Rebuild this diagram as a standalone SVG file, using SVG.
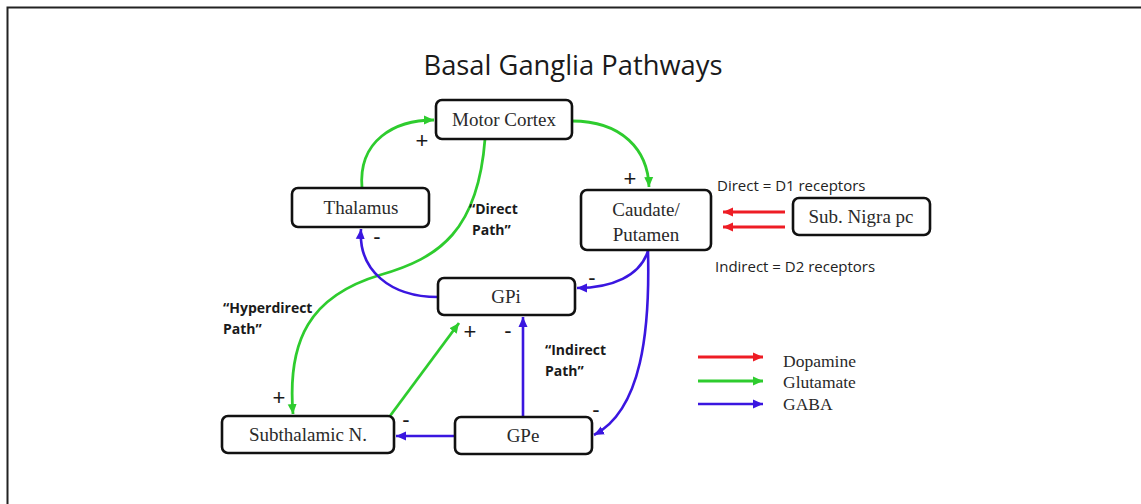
<svg xmlns="http://www.w3.org/2000/svg" width="1141" height="504" viewBox="0 0 1141 504">
  <style>
    .box { fill: #ffffff; stroke: #111111; stroke-width: 2.6; }
    .node { font-family: "Liberation Serif", "Times New Roman", serif; font-size: 19px; fill: #2a2a2a; text-anchor: middle; }
    .legend { font-family: "Liberation Serif", "Times New Roman", serif; font-size: 17.5px; fill: #2a2a2a; }
    .note { font-family: "Open Sans", "Liberation Sans", sans-serif; font-size: 15px; fill: #222222; }
    .path-label { font-family: "Open Sans", "Liberation Sans", sans-serif; font-size: 14px; font-weight: bold; fill: #1a1a1a; }
    .sign { font-family: "Liberation Sans", "Arial", sans-serif; font-size: 22px; fill: #1a1a1a; text-anchor: middle; }
    .glu { fill: none; stroke: #2ecc2e; stroke-width: 2.8; }
    .gaba { fill: none; stroke: #3a16e0; stroke-width: 2.6; }
    .da { fill: none; stroke: #ee1c24; stroke-width: 3; }
  </style>
  <defs>
    <marker id="arrow-glu" markerUnits="userSpaceOnUse" markerWidth="11" markerHeight="10" refX="10" refY="5" orient="auto">
      <path d="M0,0.5 L10,5 L0,9.5 z" fill="#2ecc2e"/>
    </marker>
    <marker id="arrow-gaba" markerUnits="userSpaceOnUse" markerWidth="11" markerHeight="10" refX="10" refY="5" orient="auto">
      <path d="M0,0.5 L10,5 L0,9.5 z" fill="#3a16e0"/>
    </marker>
    <marker id="arrow-da" markerUnits="userSpaceOnUse" markerWidth="11" markerHeight="10" refX="10" refY="5" orient="auto">
      <path d="M0,0.5 L10,5 L0,9.5 z" fill="#ee1c24"/>
    </marker>
  </defs>

  <rect width="1141" height="504" fill="#ffffff"/>
  <!-- frame -->
  <path d="M7.5,504 L7.5,7.5 L1141,7.5" fill="none" stroke="#222222" stroke-width="2"/>

  <text x="573" y="75" font-family="Open Sans, Liberation Sans, sans-serif" font-size="27" fill="#1a1a1a" text-anchor="middle" textLength="299" lengthAdjust="spacingAndGlyphs">Basal Ganglia Pathways</text>

  <!-- connectors -->
  <g id="connectors">
    <!-- glutamate -->
    <path class="glu" d="M362,188 C358,140 395,120 434,120" marker-end="url(#arrow-glu)"/>
    <path class="glu" d="M572,121 C622,121 648,150 649,187" marker-end="url(#arrow-glu)"/>
    <path class="glu" d="M485,139 C478,230 440,258 380,275 C310,296 287,340 293,414" marker-end="url(#arrow-glu)"/>
    <path class="glu" d="M390,416 L459,323" marker-end="url(#arrow-glu)"/>
    <!-- GABA -->
    <path class="gaba" d="M648,251 C640,276 612,288 577,288" marker-end="url(#arrow-gaba)"/>
    <path class="gaba" d="M648,251 C650,330 642,410 594,435" marker-end="url(#arrow-gaba)"/>
    <path class="gaba" d="M438,297 C390,297 358,270 361,229" marker-end="url(#arrow-gaba)"/>
    <path class="gaba" d="M523,417 L523,317" marker-end="url(#arrow-gaba)"/>
    <path class="gaba" d="M455,436 L396,436" stroke-width="4" marker-end="url(#arrow-gaba)"/>
    <!-- dopamine -->
    <path class="da" d="M785,212 L723,212" marker-end="url(#arrow-da)"/>
    <path class="da" d="M785,227 L723,227" marker-end="url(#arrow-da)"/>
  </g>

  <!-- nodes -->
  <g id="motor-cortex">
    <rect class="box" x="436" y="100" width="136" height="39" rx="6"/>
    <text class="node" x="504" y="126">Motor Cortex</text>
  </g>
  <g id="thalamus">
    <rect class="box" x="292" y="188" width="137" height="39" rx="6"/>
    <text class="node" x="361" y="214">Thalamus</text>
  </g>
  <g id="caudate-putamen">
    <rect class="box" x="581" y="190" width="130" height="60" rx="6"/>
    <text class="node" x="646" y="216">Caudate/</text>
    <text class="node" x="646" y="241">Putamen</text>
  </g>
  <g id="sub-nigra">
    <rect class="box" x="793" y="198" width="137" height="37" rx="6"/>
    <text class="node" x="861" y="223">Sub. Nigra pc</text>
  </g>
  <g id="gpi">
    <rect class="box" x="438" y="278" width="137" height="37" rx="6"/>
    <text class="node" x="506" y="303">GPi</text>
  </g>
  <g id="gpe">
    <rect class="box" x="455" y="417" width="137" height="37" rx="6"/>
    <text class="node" x="523" y="442">GPe</text>
  </g>
  <g id="subthalamic">
    <rect class="box" x="222" y="416" width="172" height="37" rx="6"/>
    <text class="node" x="308" y="441">Subthalamic N.</text>
  </g>

  <!-- receptor notes -->
  <text class="note" x="717" y="191">Direct = D1 receptors</text>
  <text class="note" x="715" y="272">Indirect = D2 receptors</text>

  <!-- pathway labels -->
  <text class="path-label" x="469" y="214">“Direct</text>
  <text class="path-label" x="472" y="235">Path”</text>
  <text class="path-label" x="223" y="313">“Hyperdirect</text>
  <text class="path-label" x="223" y="334">Path”</text>
  <text class="path-label" x="545" y="355">“Indirect</text>
  <text class="path-label" x="545" y="376">Path”</text>

  <!-- signs -->
  <text class="sign" x="422" y="148">+</text>
  <text class="sign" x="630" y="186">+</text>
  <text class="sign" x="377" y="244">-</text>
  <text class="sign" x="592" y="285">-</text>
  <text class="sign" x="470" y="339">+</text>
  <text class="sign" x="508" y="338">-</text>
  <text class="sign" x="279" y="405">+</text>
  <text class="sign" x="406" y="427">-</text>
  <text class="sign" x="596" y="417">-</text>

  <!-- legend -->
  <g id="legend">
    <path class="da" d="M698,357 L763,357" marker-end="url(#arrow-da)"/>
    <path class="glu" d="M698,381 L763,381" marker-end="url(#arrow-glu)"/>
    <path class="gaba" d="M698,404 L763,404" marker-end="url(#arrow-gaba)"/>
    <text class="legend" x="783" y="367">Dopamine</text>
    <text class="legend" x="783" y="388">Glutamate</text>
    <text class="legend" x="783" y="410">GABA</text>
  </g>
</svg>
